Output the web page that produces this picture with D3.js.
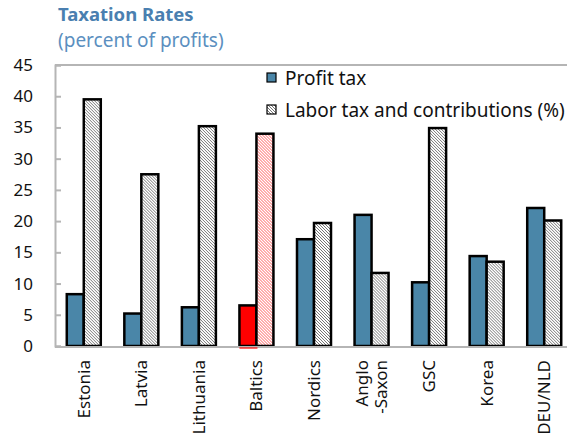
<!DOCTYPE html>
<html>
<head>
<meta charset="utf-8">
<script src="https://cdn.jsdelivr.net/npm/d3@7"></script>
<style>
    body { margin: 0; background: #fff; }
    svg { font-family: 'Noto Sans', sans-serif; }
</style>
</head>
<body>
<div id="chart"></div>
<script>
// data
const categories = ['Estonia', 'Latvia', 'Lithuania', 'Baltics', 'Nordics', 'Anglo-Saxon', 'GSC', 'Korea', 'DEU/NLD'];
const categoryLabels = [['Estonia'], ['Latvia'], ['Lithuania'], ['Baltics'], ['Nordics'], ['Anglo', '-Saxon'], ['GSC'], ['Korea'], ['DEU/NLD']];
const profitTax = [8.3, 5.2, 6.2, 6.5, 17.1, 21.0, 10.2, 14.4, 22.1];
const laborTax = [39.5, 27.5, 35.2, 34.0, 19.7, 11.7, 34.9, 13.5, 20.1];
const yTicks = [0, 5, 10, 15, 20, 25, 30, 35, 40, 45];
const seriesNames = ['Profit tax', 'Labor tax and contributions (%)'];
const highlight = 'Baltics';

const width = 567;
const height = 436;
const margins = { left: 55, right: -6, top: 65, bottom: 90 };

const svg = d3.select('#chart')
    .append('svg')
    .attr('width', width)
    .attr('height', height);

const defs = svg.append('defs');

function hatch(id, color, bg) {
    const p = defs.append('pattern')
        .attr('id', id)
        .attr('patternUnits', 'userSpaceOnUse')
        .attr('width', 3)
        .attr('height', 3);
    p.append('rect').attr('width', 3).attr('height', 3).attr('fill', bg);
    p.append('path')
        .attr('d', 'M-1,-1 L4,4 M2,-1 L4,1 M-1,2 L1,4')
        .attr('stroke', color)
        .attr('stroke-width', 0.9);
}
hatch('hatch', '#666', '#fff');
hatch('hatchRed', '#ff4a4a', '#fff');

const x = d3.scaleBand()
    .domain(categories)
    .range([margins.left, width - margins.right]);

const y = d3.scaleLinear()
    .domain([0, 45])
    .range([height - margins.bottom, margins.top]);

const barW = 17;

// frame: top border, left axis, bottom axis
svg.append('line')
    .attr('x1', margins.left).attr('x2', width)
    .attr('y1', y(45)).attr('y2', y(45))
    .attr('stroke', '#b5b5b5').attr('stroke-width', 2);

const yAxis = d3.axisRight(y)
    .tickValues(yTicks)
    .tickSize(6)
    .tickFormat('');

svg.append('g')
    .attr('transform', `translate(${margins.left},0)`)
    .call(yAxis)
    .call(g => g.select('.domain').attr('stroke', '#b5b5b5').attr('stroke-width', 2))
    .call(g => g.selectAll('.tick line').attr('stroke', '#b5b5b5').attr('stroke-width', 2));

svg.append('g')
    .selectAll('text')
    .data(yTicks)
    .enter()
    .append('text')
    .attr('x', 33)
    .attr('y', d => y(d))
    .attr('dy', '0.35em')
    .attr('text-anchor', 'end')
    .style('font-size', '17px')
    .attr('fill', '#111')
    .text(d => d);

// bars
const groups = svg.append('g')
    .selectAll('g')
    .data(categories)
    .enter()
    .append('g')
    .attr('transform', d => `translate(${x(d) + x.bandwidth() / 2},0)`);

groups.append('rect')
    .attr('x', -barW)
    .attr('width', barW)
    .attr('y', (d, i) => y(profitTax[i]))
    .attr('height', (d, i) => y(0) - y(profitTax[i]))
    .attr('fill', d => d === highlight ? '#ff0000' : '#4a86a8')
    .attr('stroke', '#000')
    .attr('stroke-width', 2.5);

groups.append('rect')
    .attr('x', 0)
    .attr('width', barW)
    .attr('y', (d, i) => y(laborTax[i]))
    .attr('height', (d, i) => y(0) - y(laborTax[i]))
    .attr('fill', d => d === highlight ? 'url(#hatchRed)' : 'url(#hatch)')
    .attr('stroke', '#000')
    .attr('stroke-width', 2.5);

svg.append('line')
    .attr('x1', margins.left).attr('x2', width)
    .attr('y1', y(0) + 1).attr('y2', y(0) + 1)
    .attr('stroke', '#b5b5b5').attr('stroke-width', 2);

// red mark under the highlighted group
svg.append('line')
    .attr('x1', x(highlight) + x.bandwidth() / 2 - barW)
    .attr('x2', x(highlight) + x.bandwidth() / 2 + 1)
    .attr('y1', y(0) + 2).attr('y2', y(0) + 2)
    .attr('stroke', '#ff0000').attr('stroke-width', 1.2);

// category labels, rotated
const labels = svg.append('g')
    .selectAll('text')
    .data(categories)
    .enter()
    .append('text')
    .attr('transform', d => `translate(${x(d) + x.bandwidth() / 2},360) rotate(-90)`)
    .attr('text-anchor', 'end')
    .style('font-size', '17px')
    .attr('fill', '#111');

labels.each(function(d, i) {
    const lines = categoryLabels[i];
    const t = d3.select(this);
    lines.forEach((l, j) => {
        t.append('tspan')
            .attr('x', 0)
            .attr('y', (j - (lines.length - 1) / 2) * 19)
            .attr('dy', '0.35em')
            .text(l);
    });
});

// legend
const legend = svg.append('g')
    .attr('transform', 'translate(267,78)');

seriesNames.forEach((name, i) => {
    const row = legend.append('g').attr('transform', `translate(0,${i * 32})`);
    row.append('rect')
        .attr('x', 0).attr('y', -5)
        .attr('width', 9).attr('height', 9)
        .attr('fill', i === 0 ? '#4a86a8' : 'url(#hatch)')
        .attr('stroke', '#000')
        .attr('stroke-width', 1.2);
    row.append('text')
        .attr('x', 18)
        .attr('y', 0)
        .attr('dy', '0.35em')
        .style('font-size', '19px')
        .attr('fill', '#111')
        .text(name);
});

// title
svg.append('text')
    .attr('x', 58).attr('y', 21)
    .style('font-size', '18.5px')
    .style('font-weight', 'bold')
    .attr('fill', '#4a7fb0')
    .text('Taxation Rates');

svg.append('text')
    .attr('x', 58).attr('y', 47)
    .style('font-size', '19px')
    .attr('fill', '#5b8fc0')
    .text('(percent of profits)');
</script>
</body>
</html>
